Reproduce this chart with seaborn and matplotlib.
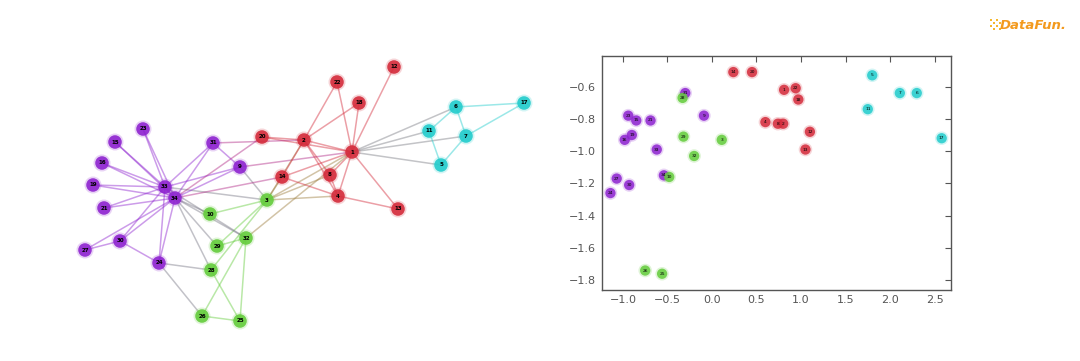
import numpy as np
import pandas as pd
import seaborn as sns
import matplotlib
matplotlib.use("Agg")
import matplotlib.pyplot as plt
from matplotlib.collections import LineCollection
from matplotlib.colors import to_rgb
from matplotlib.patches import Rectangle

sns.set_theme(style="white")
plt.rcParams['font.family'] = ['DejaVu Sans']

# community colours
palette = {"a": "#8E24D0", "b": "#64CC3C", "c": "#D42B3B", "d": "#22CCCC"}

# --- karate club graph (layout) ---
node_label = list(range(1, 35))
node_group = ["c", "c", "b", "c", "d", "d", "d", "c", "a", "b",
              "d", "c", "c", "c", "a", "a", "d", "c", "a", "c",
              "a", "c", "a", "a", "b", "b", "a", "b", "b", "a",
              "a", "b", "a", "a"]
node_x = [352, 304, 267, 338, 441, 456, 466, 330, 240, 210,
          429, 394, 398, 282, 115, 102, 524, 359, 93, 262,
          104, 337, 143, 159, 240, 202, 85, 211, 217, 120,
          213, 246, 165, 175]
node_y = [152, 140, 200, 196, 165, 107, 136, 175, 167, 214,
          131, 67, 209, 177, 142, 163, 103, 103, 185, 137,
          208, 82, 129, 263, 321, 316, 250, 270, 246, 241,
          143, 238, 187, 198]
edges = [(1, 2), (1, 3), (1, 4), (1, 5), (1, 6), (1, 7), (1, 8), (1, 9),
         (1, 11), (1, 12), (1, 13), (1, 14), (1, 18), (1, 20), (1, 22), (1, 32),
         (2, 3), (2, 4), (2, 8), (2, 14), (2, 18), (2, 20), (2, 22), (2, 31),
         (3, 4), (3, 8), (3, 9), (3, 10), (3, 14), (3, 28), (3, 29), (3, 33),
         (4, 8), (4, 13), (4, 14), (5, 7), (5, 11), (6, 7), (6, 11), (6, 17),
         (7, 17), (9, 31), (9, 33), (9, 34), (10, 34), (14, 34), (15, 33), (15, 34),
         (16, 33), (16, 34), (19, 33), (19, 34), (20, 34), (21, 33), (21, 34),
         (23, 33), (23, 34), (24, 26), (24, 28), (24, 30), (24, 33), (24, 34),
         (25, 26), (25, 28), (25, 32), (26, 32), (27, 30), (27, 34), (28, 34),
         (29, 32), (29, 34), (30, 33), (30, 34), (31, 33), (31, 34), (32, 33),
         (32, 34), (33, 34)]

# --- DeepWalk embedding ---
emb_label = [31, 23, 15, 21, 9, 16, 19, 33, 34, 27, 30, 24,
             28, 29, 3, 32, 10, 26, 25,
             14, 20, 1, 22, 18, 4, 8, 2, 12, 13,
             5, 7, 6, 11, 17]
emb_group = ["a"] * 12 + ["b"] * 7 + ["c"] * 10 + ["d"] * 5
emb_x = [-0.30, -0.94, -0.85, -0.69, -0.09, -0.98, -0.90, -0.62, -0.54, -1.07, -0.93, -1.14,
         -0.33, -0.32, 0.11, -0.20, -0.48, -0.75, -0.56,
         0.24, 0.45, 0.81, 0.94, 0.97, 0.60, 0.74, 0.80, 1.10, 1.05,
         1.80, 2.11, 2.30, 1.75, 2.58]
emb_y = [-0.64, -0.78, -0.81, -0.81, -0.78, -0.93, -0.90, -0.99, -1.15, -1.17, -1.21, -1.26,
         -0.67, -0.91, -0.93, -1.03, -1.16, -1.74, -1.76,
         -0.51, -0.51, -0.62, -0.61, -0.68, -0.82, -0.83, -0.83, -0.88, -0.99,
         -0.53, -0.64, -0.64, -0.74, -0.92]

nodes = pd.DataFrame({"label": node_label, "x": node_x, "y": node_y, "group": node_group})
emb = pd.DataFrame({"label": emb_label, "x": emb_x, "y": emb_y, "group": emb_group})

fig = plt.figure(figsize=(10.8, 3.61), dpi=100)
fig.patch.set_facecolor("white")

# left: graph
axg = fig.add_axes([0, 0, 0.52, 1])
axg.set_xlim(0, 561.6)
axg.set_ylim(361, 0)
axg.axis("off")

pos = nodes.set_index("label")
segs, cols = [], []
for u, v in edges:
    segs.append([(pos.x[u], pos.y[u]), (pos.x[v], pos.y[v])])
    cu = np.array(to_rgb(palette[pos.group[u]]))
    cv = np.array(to_rgb(palette[pos.group[v]]))
    cols.append(tuple((cu + cv) / 2) + (0.45,))
axg.add_collection(LineCollection(segs, colors=cols, linewidths=1.1, zorder=1))

# soft halo + node
sns.scatterplot(data=nodes, x="x", y="y", hue="group", palette=palette,
                s=150, alpha=0.2, edgecolor="none", legend=False, ax=axg, zorder=2)
sns.scatterplot(data=nodes, x="x", y="y", hue="group", palette=palette,
                s=95, alpha=0.9, edgecolor="none", legend=False, ax=axg, zorder=2)
for _, r in nodes.iterrows():
    axg.text(r.x, r.y, str(r.label), fontsize=4, ha="center", va="center",
             color="black", fontweight="bold", zorder=3)

# right: embedding scatter
axs = fig.add_axes([0.557, 0.197, 0.324, 0.648])
sns.scatterplot(data=emb, x="x", y="y", hue="group", palette=palette,
                s=95, alpha=0.2, edgecolor="none", legend=False, ax=axs, zorder=2)
sns.scatterplot(data=emb, x="x", y="y", hue="group", palette=palette,
                s=55, alpha=0.85, edgecolor="none", legend=False, ax=axs, zorder=2)
for _, r in emb.iterrows():
    axs.text(r.x, r.y, str(r.label), fontsize=3.2, ha="center", va="center",
             color="black", zorder=3)
axs.set_xlim(-1.24, 2.69)
axs.set_ylim(-1.86, -0.41)
axs.set_xticks(np.arange(-1.0, 2.51, 0.5))
axs.set_yticks(np.arange(-1.8, -0.59, 0.2))
axs.set_xlabel("")
axs.set_ylabel("")
axs.tick_params(direction="in", top=True, right=True, length=4, width=0.8,
                color="#555555", labelsize=8, labelcolor="#555555", pad=4)
for sp in axs.spines.values():
    sp.set_color("#555555")
    sp.set_linewidth(1.0)

# logo
fig.text(0.926, 0.928, "DataFun.", fontsize=9.5, fontweight="bold", fontstyle="italic",
         color="#F39A1E", ha="left", va="center")
for dx, dy in [(0, 0), (3, 3), (6, 0), (3, -3), (6, 6), (9, 3), (0, 6), (9, -3)]:
    fig.patches.append(Rectangle(((990 + dx) / 1080, 1 - (27 - dy) / 361), 1.8 / 1080, 1.8 / 361,
                                 transform=fig.transFigure, color="#F5B82E", lw=0))

fig.savefig("out.png", dpi=100, facecolor="white")
